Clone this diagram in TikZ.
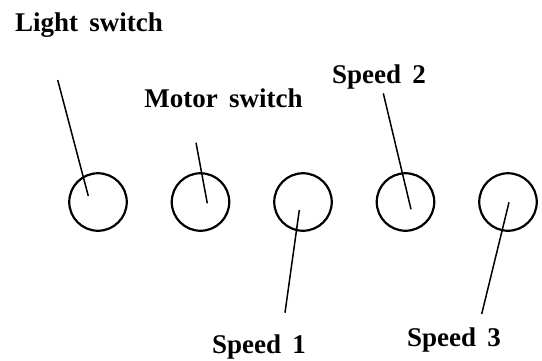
\documentclass[tikz,border=0pt]{standalone}
\usepackage{fontspec}
\setmainfont{Liberation Serif}[WordSpace=1.7]
\usetikzlibrary{positioning}
\begin{document}
\begin{tikzpicture}[x=1pt,y=-1pt,
    knob/.style={draw,circle,line width=2.2pt,minimum size=57.5pt,inner sep=0pt},
    lbl/.style={font=\fontsize{27}{30}\selectfont\bfseries,inner sep=0pt,anchor=base},
    wire/.style={line width=1.5pt},
    node distance={102.5pt}]
\useasboundingbox (0,0) rectangle (542,360);
\node[knob](light) at (98,202){};
\node[knob](motor)[right of=light]{};
\node[knob](sp1)[right of=motor]{};
\node[knob](sp2)[right of=sp1]{};
\node[knob](sp3)[right of=sp2]{};
\node[lbl](lightlbl) at (89,31.5){Light switch};
\node[lbl](motorlbl) at (223.5,107){Motor switch};
\node[lbl](sp2lbl) at (379,83){Speed 2};
\node[lbl](sp1lbl) at (259,353){Speed 1};
\node[lbl](sp3lbl) at (454,346.5){Speed 3};
\coordinate (lighttop) at (57.7,80);
\coordinate (lightin) at (88.3,196);
\coordinate (motortop) at (196,142.7);
\coordinate (motorin) at (207.3,203.3);
\coordinate (sp2top) at (383.3,93.3);
\coordinate (sp2in) at (411,209.3);
\coordinate (sp1in) at (299.3,210);
\coordinate (sp1bot) at (285,312.7);
\coordinate (sp3in) at (509,202.3);
\coordinate (sp3bot) at (481.7,314);
\draw[wire](lighttop) -- (lightin);
\draw[wire](motortop) -- (motorin);
\draw[wire](sp2top) -- (sp2in);
\draw[wire](sp1in) -- (sp1bot);
\draw[wire](sp3in) -- (sp3bot);
\end{tikzpicture}
\end{document}
